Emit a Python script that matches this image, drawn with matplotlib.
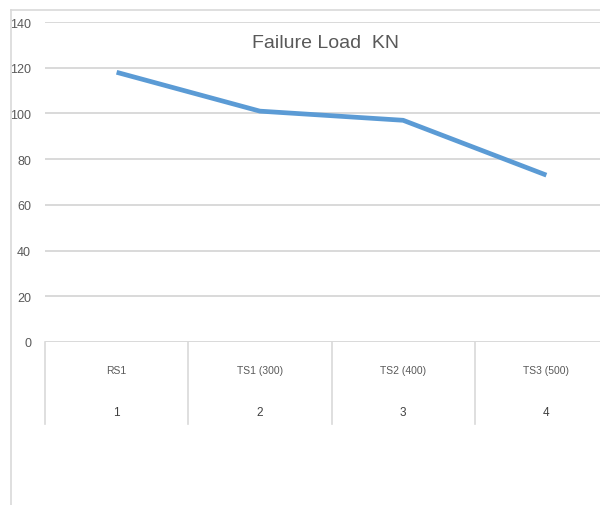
import matplotlib.pyplot as plt
import matplotlib.transforms as mtransforms

categories = ['RS1', 'TS1 (300)', 'TS2 (400)', 'TS3 (500)']
positions = [1, 2, 3, 4]
failure_load = [118, 101, 97, 73]
y_ticks = [0, 20, 40, 60, 80, 100, 120, 140]
title = 'Failure Load  KN'

plt.rcParams['font.family'] = ['Liberation Sans', 'DejaVu Sans']

W, H = 600, 506
fig = plt.figure(figsize=(W / 100, H / 100), dpi=100)

# chart frame (top and left edges only visible in the crop)
fig.add_artist(plt.Line2D([11 / W, 11 / W], [0, 1 - 11 / H], color='#d9d9d9', lw=1.2))
fig.add_artist(plt.Line2D([11 / W, 1], [1 - 11 / H, 1 - 11 / H], color='#d9d9d9', lw=1.2))

left, right, top, bottom = 45, 618, 23, 343
ax = fig.add_axes([left / W, 1 - bottom / H, (right - left) / W, (bottom - top) / H])
ax.plot(positions, failure_load, color='#5b9bd5', lw=3.4, solid_capstyle='butt')
ax.set_xlim(0.5, 4.5)
ax.set_ylim(0, 140)
ax.set_yticks(y_ticks)
ax.set_yticklabels([str(v) for v in y_ticks], color='#595959', fontsize=9)
ax.tick_params(axis='y', length=0, pad=10)
ax.set_xticks([])
for s in ax.spines.values():
    s.set_visible(False)
ax.grid(axis='y', color='#d9d9d9', lw=1.4)
ax.set_axisbelow(True)

# category table below the axis
trans = mtransforms.blended_transform_factory(ax.transData, ax.transAxes)
for xb in [0.5, 1.5, 2.5, 3.5]:
    ax.plot([xb, xb], [0, -82 / 320], color='#d9d9d9', lw=1.2, transform=trans, clip_on=False)
for p, c in zip(positions, categories):
    ax.text(p, -28 / 320, c, transform=trans, ha='center', va='center',
            fontsize=7.5, color='#595959')
    ax.text(p, -70 / 320, str(p), transform=trans, ha='center', va='center',
            fontsize=8.5, color='#404040')

fig.text(326 / W, 1 - 43 / H, title, ha='center', va='center', fontsize=14, color='#595959')

fig.savefig('out.png', dpi=100)
